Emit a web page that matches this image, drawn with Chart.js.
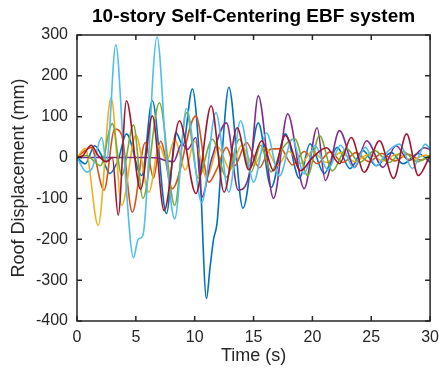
<!DOCTYPE html>
<html>
<head>
<meta charset="utf-8">
<script src="https://cdn.jsdelivr.net/npm/chart.js@4"></script>
<style>
  html, body { margin: 0; padding: 0; background: #fff; }
  #wrap { width: 446px; height: 372px; }
</style>
</head>
<body>
<div id="wrap"><canvas id="roofChart"></canvas></div>
<script>
// time (s) / roof displacement (mm), read from the peaks of each record
const blueT = [0, 0.7, 1.5, 2.0, 2.8, 3.5, 4.2, 5.5, 6.4, 7.6, 8.4, 9.0, 9.8, 10.4, 11.0, 11.3, 11.6, 11.9, 12.3, 12.9, 14.1, 15.4, 16.5, 17.7, 18.9, 19.8, 21.0, 22.1, 23.2, 24.3, 25.4, 26.7, 27.7, 29.0, 30];
const blueV = [0, -15, 29, 10, -39, -5, 58, -44, 139, -137, 61, 30, 168, 0, -345, -270, -200, -160, 0, 172, -124, 85, -73, 58, -51, 34, -39, 25, -27, 17, -20, 12, -15, 10, -12];

const orangeT = [0, 0.6, 1.2, 2.3, 3.2, 3.8, 4.7, 5.8, 6.5, 7.1, 8.1, 10.1, 11.2, 11.9, 12.7, 13.4, 14.4, 15.5, 16.4, 17.3, 18.3, 19.3, 20.4, 21.5, 22.6, 23.7, 24.8, 25.9, 27.0, 28.1, 29.2, 30];
const orangeV = [0, 15, 25, -80, 70, 55, -134, 37, -50, 40, -76, 102, -60, -27, 25, -20, 37, -25, 20, 22, -18, 15, -15, 14, -12, 12, -10, 10, -8, 8, -6, 4];

const yellowT = [0, 0.7, 1.8, 2.9, 3.8, 5.0, 6.1, 7.0, 7.6, 8.3, 9.2, 10.0, 11.0, 12.0, 13.0, 14.0, 15.0, 16.0, 17.0, 18.0, 19.0, 20.0, 21.2, 22.4, 23.6, 24.8, 26.0, 27.2, 28.4, 29.6, 30];
const yellowV = [0, 22, -166, 147, -117, 55, -85, 30, -10, 45, -30, 40, -50, 25, -30, 30, -20, 25, -20, 15, -15, 15, -12, 12, -10, 8, -8, 8, -6, 6, 3];

const purpleT = [0, 3, 6, 7.0, 7.6, 8.2, 8.9, 9.4, 10.1, 10.6, 11.4, 12.7, 13.7, 14.7, 15.4, 16.7, 17.9, 19.3, 20.4, 21.1, 22.3, 23.6, 24.6, 26.0, 27.1, 28.2, 29.5, 30];
const purpleV = [0, 0, 0, -2, -8, -10, 34, 20, 49, -97, -7, 85, -80, -32, 151, -100, 107, -76, 73, -56, 66, -24, 41, -24, 29, -7, 24, 20];

const greenT = [0, 0.8, 1.5, 2.0, 3.0, 3.8, 4.8, 5.6, 7.0, 8.3, 9.3, 10.3, 11.5, 12.7, 13.8, 14.8, 15.6, 16.5, 17.4, 18.5, 19.6, 20.6, 21.7, 22.9, 24.0, 25.3, 26.5, 27.7, 28.9, 30];
const greenV = [0, 5, -10, -20, 83, -44, 80, -100, 134, -117, 110, -50, 45, -48, 45, -35, 30, -35, 20, 46, -44, 54, -32, 22, -12, 17, -12, 15, -10, 5];

const cyanT = [0, 0.8, 1.3, 2.1, 2.5, 3.3, 4.0, 4.8, 5.2, 5.6, 6.8, 7.6, 8.3, 9.3, 10.6, 11.8, 12.9, 13.9, 15.0, 16.1, 17.2, 18.3, 19.3, 20.2, 21.3, 22.4, 23.5, 24.5, 25.4, 26.4, 27.4, 28.5, 29.6, 30];
const cyanV = [0, -35, -25, 49, -10, 276, 0, -245, -200, -190, 295, 0, -150, 120, -110, 110, -85, 90, -60, 60, -45, 45, -40, 30, -30, 30, -25, 25, -20, 15, 33, -27, 33, 20];

const redT = [0, 0.5, 1.2, 1.8, 2.5, 3.0, 3.5, 4.2, 5.4, 6.4, 7.4, 8.7, 10.1, 11.4, 12.5, 13.6, 14.6, 15.7, 16.7, 17.7, 19.0, 20.0, 21.2, 22.3, 23.3, 24.4, 25.7, 26.9, 28.0, 29.0, 30];
const redV = [0, 5, 30, 5, -10, 0, -141, 139, -78, 102, -130, 90, -88, 127, -85, 73, -30, 41, -32, 54, -32, 0, 24, -15, 49, -36, 41, -51, 58, -44, 5];

const xTicks = [0, 5, 10, 15, 20, 25, 30];
const yTicks = [-400, -300, -200, -100, 0, 100, 200, 300];

const series = [
    { t: blueT, v: blueV, color: '#0072BD' },
    { t: orangeT, v: orangeV, color: '#D95319' },
    { t: yellowT, v: yellowV, color: '#EDB120' },
    { t: purpleT, v: purpleV, color: '#7E2F8E' },
    { t: greenT, v: greenV, color: '#77AC30' },
    { t: cyanT, v: cyanV, color: '#4DBEEE' },
    { t: redT, v: redV, color: '#A2142F' }
];

const axisColor = '#262626';
const font = 'Arial, "Liberation Sans", sans-serif';

// matlab style box with inward ticks on all four sides, plus the title
const matlabBox = {
    id: 'matlabBox',
    afterDraw(chart) {
        const { ctx, chartArea: a, scales } = chart;
        ctx.save();
        ctx.strokeStyle = axisColor;
        ctx.lineWidth = 1.5;
        ctx.strokeRect(a.left, a.top, a.right - a.left, a.bottom - a.top);
        ctx.beginPath();
        xTicks.forEach(t => {
            const x = scales.x.getPixelForValue(t);
            ctx.moveTo(x, a.bottom); ctx.lineTo(x, a.bottom - 5);
            ctx.moveTo(x, a.top); ctx.lineTo(x, a.top + 5);
        });
        yTicks.forEach(t => {
            const y = scales.y.getPixelForValue(t);
            ctx.moveTo(a.left, y); ctx.lineTo(a.left + 5, y);
            ctx.moveTo(a.right, y); ctx.lineTo(a.right - 5, y);
        });
        ctx.stroke();
        ctx.fillStyle = '#000';
        ctx.font = 'bold 19px ' + font;
        ctx.textAlign = 'center';
        ctx.textBaseline = 'middle';
        ctx.fillText('10-story Self-Centering EBF system', (a.left + a.right) / 2, 17);
        ctx.restore();
    }
};

new Chart(document.getElementById('roofChart'), {
    type: 'line',
    data: {
        // reversed so the last record is painted on top, like matlab
        datasets: series.map(s => ({
            data: s.t.map((t, i) => ({ x: t, y: s.v[i] })),
            borderColor: s.color,
            borderWidth: 1.6,
            pointRadius: 0,
            fill: false,
            cubicInterpolationMode: 'monotone'
        })).reverse()
    },
    options: {
        responsive: true,
        maintainAspectRatio: false,
        animation: false,
        layout: { padding: { top: 35, right: 12, left: 0, bottom: 0 } },
        plugins: { legend: { display: false }, title: { display: false }, tooltip: { enabled: false } },
        scales: {
            x: {
                type: 'linear',
                min: 0, max: 30,
                afterBuildTicks: s => { s.ticks = xTicks.map(v => ({ value: v })); },
                afterFit: s => { s.height = 51; },
                grid: { display: false, drawTicks: false },
                border: { display: false },
                ticks: { color: axisColor, padding: 7, font: { size: 16, family: font } },
                title: { display: true, text: 'Time (s)', color: axisColor, padding: { top: 0, bottom: 5 }, font: { size: 18, family: font } }
            },
            y: {
                min: -400, max: 300,
                afterBuildTicks: s => { s.ticks = yTicks.map(v => ({ value: v })); },
                afterFit: s => { s.width = 77; },
                grid: { display: false, drawTicks: false },
                border: { display: false },
                ticks: { color: axisColor, padding: 9, font: { size: 16, family: font } },
                title: { display: true, text: 'Roof Displacement (mm)', color: axisColor, padding: { top: 8, bottom: 0 }, font: { size: 18, family: font } }
            }
        }
    },
    plugins: [matlabBox]
});
</script>
</body>
</html>
